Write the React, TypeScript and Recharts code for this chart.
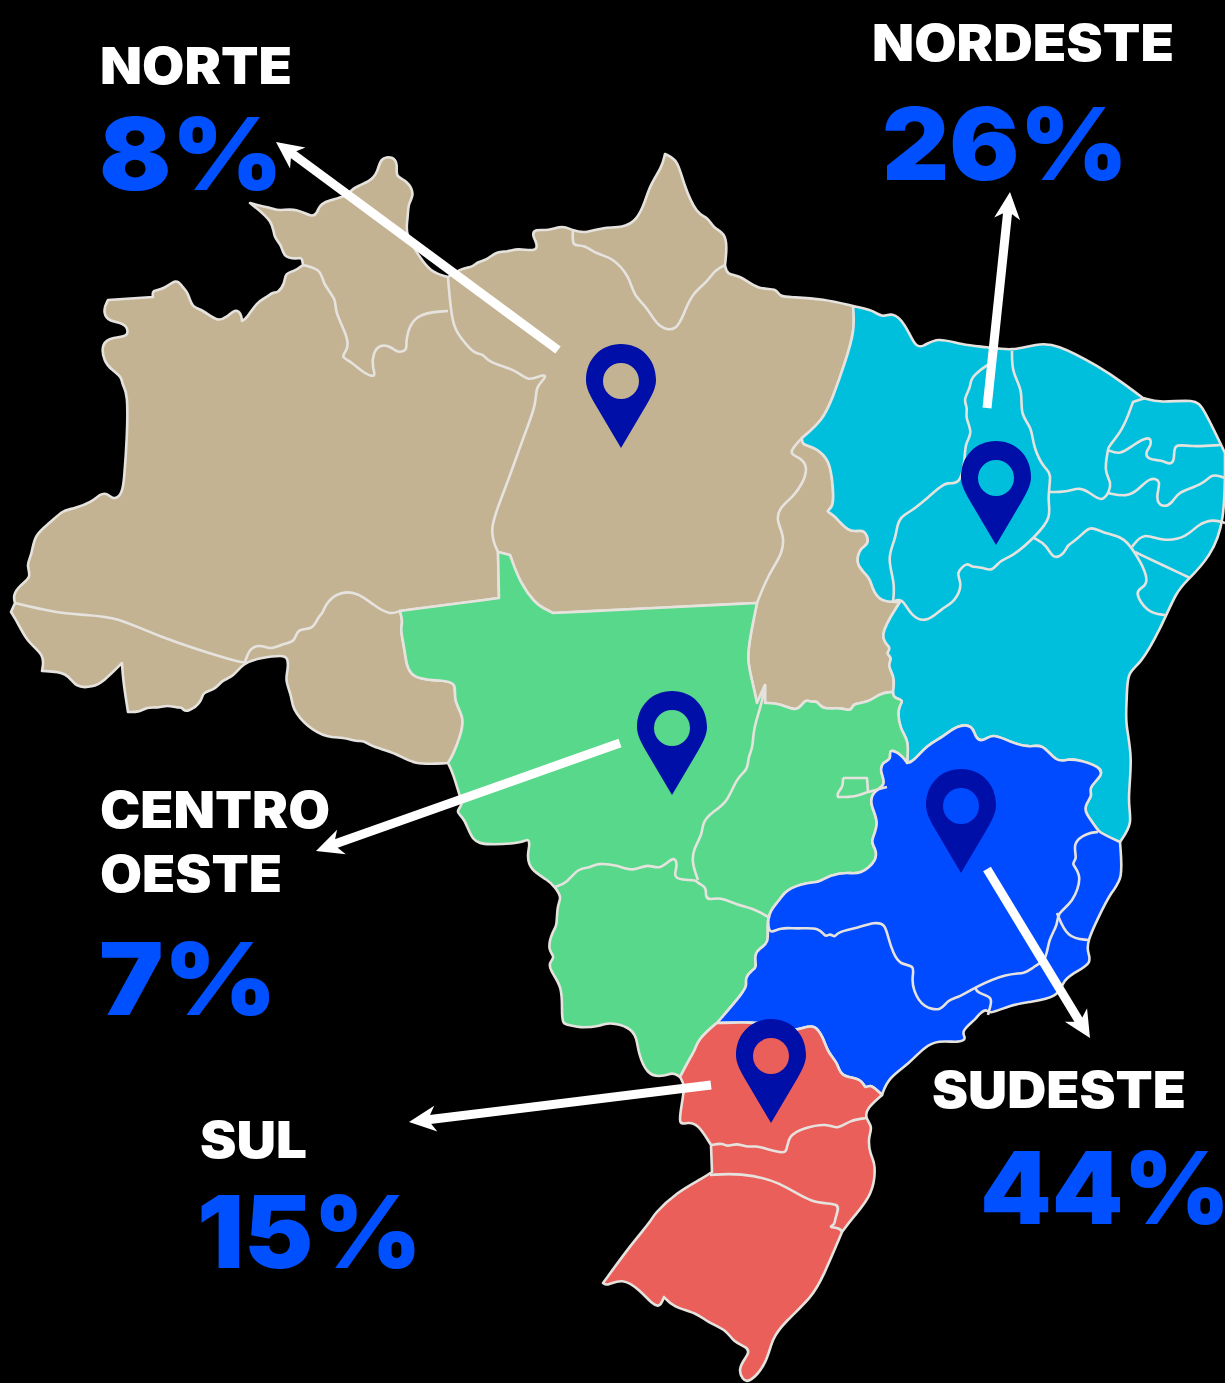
import { Scatter, ScatterChart, XAxis, YAxis } from 'recharts';

type Pt = [number, number];

// values
const regionTitles = ['NORTE', 'NORDESTE', 'CENTRO', 'OESTE', 'SUDESTE', 'SUL'];
const regionShares = [8, 26, 7, 44, 15];

// map outline, in picture coordinates
const norteNorth: Pt[] = [[15,603],[13,595],[20,585],[32,577],[26,565],[32,555],[34,535],[50,523],[63,510],[73,509],[92,502],[100,494],[107,493],[112,499],[120,497],[123,487],[124,480],[127,440],[128,392],[122,385],[122,377],[112,370],[104,362],[101,343],[113,337],[129,337],[127,325],[117,322],[107,320],[103,310],[108,300],[153,297],[152,290],[163,290],[177,278],[182,287],[188,292],[192,308],[202,309],[217,322],[227,317],[235,309],[241,313],[242,321],[247,318],[257,302],[267,297],[273,292],[278,293],[285,283],[285,273],[295,271],[303,265],[302,257],[297,259],[283,257],[282,245],[273,237],[274,222],[250,203],[260,206],[272,208],[278,211],[297,208],[312,218],[318,212],[320,202],[347,197],[353,187],[370,182],[378,172],[380,158],[393,156],[398,165],[395,177],[407,180],[415,195],[408,203],[408,218],[405,233],[417,253],[430,272],[448,277],[462,268],[473,267],[477,262],[487,260],[497,251],[508,252],[517,248],[537,252],[537,243],[532,235],[535,229],[548,231],[563,225],[573,231],[587,233],[603,227],[623,228],[637,220],[645,202],[650,185],[662,167],[665,154],[678,160],[683,183],[697,215],[708,217],[713,228],[725,233],[727,247],[725,265],[727,275],[740,275],[758,290],[777,288],[779,297],[793,297],[823,299],[853,306]];
const norteNordeste: Pt[] = [[853,306],[855,330],[845,363],[833,397],[823,420],[802,438],[802,445],[815,447],[830,460],[833,487],[834,507],[825,512],[833,513],[850,535],[865,527],[870,545],[860,547],[855,565],[870,577],[872,588],[880,602],[900,602],[877,638],[893,648],[885,653],[893,658],[887,665],[895,677],[893,692]];
const norteCentro: Pt[] = [[893,692],[880,693],[868,703],[852,703],[852,712],[840,707],[822,710],[817,700],[812,703],[805,698],[798,713],[780,703],[765,703],[765,685],[757,703],[752,680],[747,660],[750,637],[757,603],[553,613],[543,608],[535,603],[520,583],[510,555],[498,552],[499,598],[400,611],[403,623],[400,628],[405,650],[408,680],[443,680],[457,683],[453,700],[465,718],[460,737],[453,755],[448,763]];
const norteSouth: Pt[] = [[448,763],[413,765],[397,753],[372,747],[363,740],[358,742],[343,737],[328,738],[307,727],[292,708],[292,697],[285,680],[288,670],[288,658],[283,655],[260,658],[243,663],[233,677],[222,680],[215,690],[202,692],[202,702],[188,712],[183,710],[182,707],[177,708],[168,705],[157,708],[147,707],[140,712],[128,712],[123,680],[122,663],[103,682],[93,687],[75,688],[68,672],[42,671],[45,655],[27,642],[18,623],[11,612],[15,603]];
const nordesteCoast: Pt[] = [[853,306],[873,310],[882,318],[892,312],[905,323],[915,347],[923,347],[937,337],[962,345],[987,347],[1012,351],[1037,344],[1055,343],[1100,367],[1123,383],[1143,398],[1160,403],[1195,399],[1203,407],[1225,453],[1225,523],[1210,557],[1188,580],[1177,590],[1160,630],[1140,665],[1127,672],[1127,700],[1125,723],[1133,757],[1127,803],[1133,823],[1120,842]];
const minasBahia: Pt[] = [[1120,842],[1098,832],[1097,828],[1085,813],[1085,805],[1093,795],[1088,788],[1103,775],[1100,767],[1080,760],[1067,759],[1057,763],[1042,743],[1030,748],[1010,742],[992,733],[983,742],[975,738],[973,725],[957,725],[943,737],[927,745],[913,762],[907,763]];
const goiasBahia: Pt[] = [[907,763],[909,740],[900,730],[897,707],[905,700],[893,698],[893,692]];
const centroSouth: Pt[] = [[448,763],[453,773],[460,797],[463,805],[455,812],[465,818],[472,842],[487,845],[523,843],[528,838],[530,845],[527,855],[530,870],[548,880],[555,887],[562,898],[557,905],[557,927],[553,930],[547,950],[556,957],[548,963],[552,973],[562,987],[562,1010],[562,1025],[572,1025],[578,1028],[602,1026],[608,1022],[630,1027],[637,1038],[638,1052],[647,1075],[662,1077],[673,1072],[680,1077]];
const sulWestTop: Pt[] = [[680,1077],[690,1058],[695,1050],[698,1040],[713,1026],[717,1023]];
const goiasMinas: Pt[] = [[717,1023],[743,993],[747,985],[745,978],[752,970],[757,968],[754,955],[760,948],[769,943],[767,925],[770,910],[780,900],[785,890],[808,882],[818,883],[830,875],[848,872],[860,875],[878,860],[875,847],[870,842],[880,823],[870,805],[872,792],[887,785],[880,772],[882,762],[892,760],[888,748],[902,755],[907,763]];
const sudesteCoast: Pt[] = [[1120,842],[1123,880],[1112,890],[1097,920],[1088,940],[1087,952],[1093,963],[1070,975],[1063,982],[1058,997],[1030,1002],[1010,1005],[988,1015],[987,1008],[978,1015],[977,1018],[960,1032],[967,1038],[960,1043],[938,1040],[923,1048],[910,1063],[888,1078],[882,1095]];
const parana: Pt[] = [[882,1095],[870,1083],[865,1090],[862,1078],[840,1077],[838,1063],[828,1053],[823,1037],[815,1025],[805,1027],[790,1032],[770,1025],[753,1022],[717,1023]];
const sulCoast: Pt[] = [[882,1095],[867,1108],[865,1118],[873,1127],[868,1137],[870,1155],[876,1163],[873,1195],[853,1217],[842,1232],[823,1277],[812,1297],[785,1322],[772,1338],[767,1363],[750,1383],[742,1380],[738,1367],[750,1353],[747,1347],[733,1342],[727,1330],[707,1322],[697,1313],[673,1307],[664,1297],[660,1307],[653,1305],[640,1290],[622,1278],[607,1286],[603,1283],[633,1242],[652,1220],[653,1215],[677,1192],[703,1178],[712,1172],[711,1145],[698,1124],[688,1122],[678,1126],[682,1103],[685,1085],[680,1077]];

// state borders inside the regions
const stateBorders: Pt[][] = [
  [[15,603],[52,612],[83,615],[118,617],[153,635],[240,663],[245,662]],
  [[245,662],[250,647],[263,645],[270,650],[285,643],[295,642],[297,628],[313,630],[318,617],[323,613],[325,605],[337,592],[358,592],[373,605],[390,615],[400,611]],
  [[498,552],[488,530],[505,490],[523,438],[537,403],[535,387],[547,377],[543,374],[528,382],[517,370],[487,362],[483,353],[475,355],[460,337],[452,325],[448,278]],
  [[303,265],[322,270],[322,283],[337,300],[334,310],[348,337],[348,350],[340,357],[352,362],[363,373],[377,378],[372,367],[373,353],[380,344],[392,347],[397,353],[408,350],[405,342],[413,313],[448,311]],
  [[573,231],[572,247],[583,244],[598,255],[612,257],[630,277],[633,295],[648,308],[658,328],[677,332],[685,310],[693,293],[707,282],[715,270],[725,265]],
  [[802,438],[787,454],[800,457],[808,467],[803,483],[793,497],[780,507],[776,520],[784,535],[783,553],[768,575],[757,603]],
  [[765,685],[762,703],[753,730],[753,748],[748,757],[748,770],[737,777],[727,803],[715,810],[702,822],[703,833],[693,850],[692,863],[698,880]],
  [[555,887],[567,883],[578,868],[590,868],[597,863],[617,865],[633,872],[648,863],[660,871],[674,855],[678,865],[673,877],[682,880],[697,880],[697,883],[707,887],[705,897],[710,900],[720,897],[737,905],[753,908],[770,918]],
  [[843,778],[867,778],[868,792],[855,797],[838,797],[837,793],[843,787],[843,778]],
  [[868,792],[887,787]],
  [[768,920],[769,935],[780,927],[797,929],[820,927],[825,938],[830,933],[835,938],[837,932],[857,928],[875,922],[885,924],[888,937],[893,953],[900,965],[915,965],[912,977],[913,990],[923,1008],[942,1011],[947,1000],[960,997],[975,987],[1008,973],[1025,974],[1033,967],[1047,960],[1048,940],[1058,925],[1057,913],[1073,903],[1083,875],[1070,863],[1078,860],[1072,843],[1087,833],[1098,832]],
  [[975,987],[977,993],[993,997],[990,1007],[988,1015]],
  [[1057,913],[1067,938],[1088,940]],
  [[711,1145],[723,1143],[727,1147],[737,1143],[745,1147],[757,1146],[763,1148],[782,1153],[787,1152],[788,1136],[803,1128],[828,1123],[837,1130],[850,1120],[867,1118]],
  [[710,1175],[740,1173],[780,1181],[812,1205],[842,1202],[835,1217],[835,1225],[828,1227],[840,1228],[842,1232]],
  [[993,362],[987,365],[970,378],[971,387],[963,400],[968,408],[965,417],[973,433],[965,443],[965,460],[960,485],[947,482],[940,487],[925,500],[913,510],[900,517],[897,527],[895,540],[887,558],[895,583],[893,602]],
  [[893,602],[902,597],[912,618],[928,622],[942,608],[955,602],[963,583],[955,573],[968,562],[970,567],[982,567],[992,572],[1000,560],[1012,557],[1035,537],[1052,517],[1047,500],[1052,472],[1045,470],[1033,447],[1032,427],[1020,415],[1023,390],[1012,373],[1012,351]],
  [[1048,492],[1067,492],[1080,487],[1090,493],[1102,502],[1108,493],[1112,483],[1104,472],[1108,450],[1108,447],[1123,430],[1133,402],[1145,398]],
  [[1108,450],[1120,455],[1133,445],[1150,435],[1152,445],[1145,452],[1148,460],[1162,460],[1170,465],[1175,460],[1173,443],[1190,447],[1220,445]],
  [[1108,493],[1127,497],[1138,490],[1150,477],[1162,480],[1155,498],[1162,508],[1173,503],[1177,492],[1203,485],[1212,473],[1225,478]],
  [[1034,538],[1047,545],[1053,560],[1065,553],[1067,545],[1077,540],[1090,525],[1100,532],[1123,537],[1132,548],[1147,573],[1147,587],[1133,590],[1147,613],[1165,615]],
  [[1132,547],[1143,532],[1163,542],[1187,537],[1197,525],[1213,519],[1225,523]],
  [[1135,552],[1190,578]],
];

// corners the smoothed outline has to keep sharp
const sharpCorners: Pt[] = [[757,603],[553,613],[400,611],[499,598],[498,552],[510,555],[900,602],[765,685],[765,703],[757,703],[250,203],[603,1283],[717,1023],[15,603],[11,612],[802,438],[303,265],[725,265],[448,277],[853,306],[1120,842],[907,763],[893,692],[882,1095],[680,1077],[842,1232],[712,1172],[711,1145],[108,300],[153,297],[242,321],[122,663],[128,712],[42,671],[664,1297],[1143,398],[1133,402],[1190,578],[1108,450],[1108,493],[448,763],[843,778],[867,778],[838,797],[868,792],[665,154],[1225,453]];

const pinTips: Pt[] = [[621,448],[996,545],[672,795],[961,873],[771,1123]];
const arrowTails: Pt[] = [[558,350],[987,408],[620,743],[987,869],[711,1085]];
const arrowNecks: Pt[] = [[290,152],[1008,209],[332,845],[1081,1024],[426,1120]];
const arrowTips: Pt[] = [[276,142],[1010,192],[316,851],[1090,1038],[409,1122]];

// baseline-left anchor and drawn width of every text
const titleAnchors: Pt[] = [[100,84],[872,61],[100,828],[100,892],[932,1108],[200,1158]];
const titleWidths = [192, 302, 230, 182, 254, 107];
const shareAnchors: Pt[] = [[99,190],[882,180],[99,1015],[980,1224],[197,1268]];
const shareWidths = [184, 246, 178, 250, 225];

const reversed = (pts: Pt[]): Pt[] => [...pts].reverse();
const toRows = (pts: Pt[]) => pts.map(([x, y]) => ({ x, y }));
const isSharp = ([x, y]: Pt) => sharpCorners.some(([a, b]) => a === x && b === y);
// a repeated point makes the basis curve pass through it
const outlineRows = (pts: Pt[]) => toRows(pts.flatMap((p) => (isSharp(p) ? [p, p, p] : [p])));

const regions = [
  { name: 'Norte', fill: '#c3b393', pts: [...norteNorth, ...norteNordeste, ...norteCentro, ...norteSouth] },
  { name: 'Nordeste', fill: '#00bfdc', pts: [...nordesteCoast, ...minasBahia, ...goiasBahia, ...reversed(norteNordeste)] },
  { name: 'Centro-Oeste', fill: '#58d88a', pts: [...centroSouth, ...sulWestTop, ...goiasMinas, ...goiasBahia, ...norteCentro] },
  { name: 'Sudeste', fill: '#004bff', pts: [...goiasMinas, ...reversed(minasBahia), ...sudesteCoast, ...parana] },
  { name: 'Sul', fill: '#eb5f5a', pts: [...reversed(parana), ...sulCoast, ...sulWestTop] },
];

const BORDER = '#e6e3df';
const FONT = 'Inter, "Open Sans", sans-serif';
const noDot = () => <g />;

function Pin({ cx, cy }: any) {
  const top = cy - 104;
  const c = cy - 68;
  const d = `M${cx} ${cy} L${cx - 26} ${cy - 44} C${cx - 33} ${cy - 56} ${cx - 35} ${cy - 62} ${cx - 35} ${c}
    C${cx - 35} ${top + 15} ${cx - 20} ${top} ${cx} ${top} C${cx + 20} ${top} ${cx + 35} ${top + 15} ${cx + 35} ${c}
    C${cx + 35} ${cy - 62} ${cx + 33} ${cy - 56} ${cx + 26} ${cy - 44} Z
    M${cx - 18} ${cy - 67} a18 18 0 1 0 36 0 a18 18 0 1 0 -36 0 Z`;
  return <path d={d} fill="#000fa8" fillRule="evenodd" />;
}

function ArrowHead({ cx, cy, payload }: any) {
  const deg = (Math.atan2(cy - payload.fromY, cx - payload.fromX) * 180) / Math.PI;
  return <path d="M0 0 L-27 -13 L-19 0 L-27 13 Z" fill="#fff" transform={`translate(${cx} ${cy}) rotate(${deg})`} />;
}

function Label({ cx, cy, payload }: any) {
  return (
    <text x={cx} y={cy} fill={payload.color} fontFamily={FONT} fontSize={payload.size} fontWeight={900}
      textLength={payload.width} lengthAdjust="spacingAndGlyphs">
      {payload.text}
    </text>
  );
}

const titleRows = regionTitles.map((text, i) => ({
  x: titleAnchors[i][0], y: titleAnchors[i][1], text, width: titleWidths[i], size: 51, color: '#ffffff',
}));
const shareRows = regionShares.map((v, i) => ({
  x: shareAnchors[i][0], y: shareAnchors[i][1], text: `${v}%`, width: shareWidths[i], size: 100, color: '#0050ff',
}));
const headRows = arrowTips.map(([x, y], i) => ({ x, y, fromX: arrowTails[i][0], fromY: arrowTails[i][1] }));

export default function App() {
  return (
    <div style={{ position: 'absolute', left: 0, top: 0, width: 1225, height: 1383, background: '#000', overflow: 'hidden' }}>
      <ScatterChart width={1225} height={1383} margin={{ top: 0, right: 0, bottom: 0, left: 0 }}>
        <XAxis type="number" dataKey="x" domain={[0, 1225]} hide />
        <YAxis type="number" dataKey="y" domain={[0, 1383]} reversed hide />
        {regions.map((r) => (
          <Scatter key={r.name} name={r.name} data={outlineRows(r.pts)} shape={noDot} isAnimationActive={false}
            lineJointType="basis"
            line={{ fill: r.fill, stroke: BORDER, strokeWidth: 2.6, strokeLinejoin: 'round' }} />
        ))}
        {stateBorders.map((pts, i) => (
          <Scatter key={`b${i}`} data={outlineRows(pts)} shape={noDot} isAnimationActive={false}
            lineJointType="basis"
            line={{ stroke: BORDER, strokeWidth: 2.6, strokeLinejoin: 'round' }} />
        ))}
        <Scatter data={toRows(pinTips)} shape={Pin} isAnimationActive={false} />
        {arrowTails.map((tail, i) => (
          <Scatter key={`a${i}`} data={toRows([tail, arrowNecks[i]])} shape={noDot} isAnimationActive={false}
            line={{ stroke: '#fff', strokeWidth: 9 }} />
        ))}
        <Scatter data={headRows} shape={ArrowHead} isAnimationActive={false} />
        <Scatter data={titleRows} shape={Label} isAnimationActive={false} />
        <Scatter data={shareRows} shape={Label} isAnimationActive={false} />
      </ScatterChart>
    </div>
  );
}
